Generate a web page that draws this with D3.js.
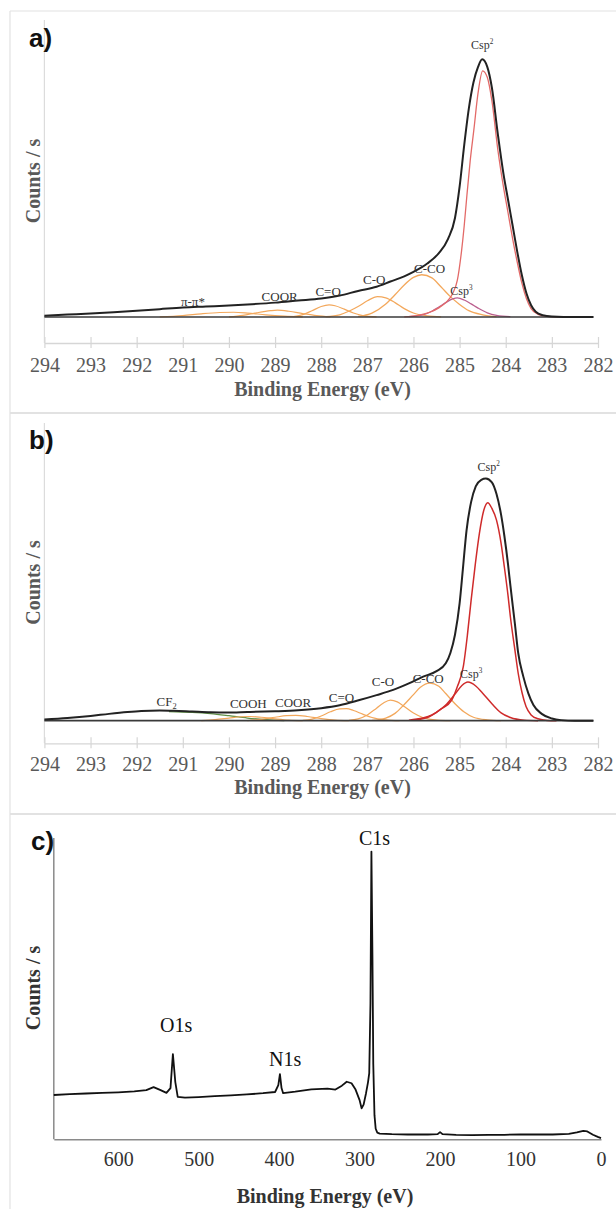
<!DOCTYPE html>
<html>
<head>
<meta charset="utf-8">
<script src="https://cdn.jsdelivr.net/npm/d3@7"></script>
<style>
  body { margin: 0; background: #fff; }
  svg text { font-family: "Liberation Serif", "Times New Roman", serif; }
</style>
</head>
<body>
<div id="chart"></div>
<script>
// ---- tick labels
const hrTicks = [294, 293, 292, 291, 290, 289, 288, 287, 286, 285, 284, 283, 282];
const surveyTicks = [600, 500, 400, 300, 200, 100, 0];

// ---- panel a: C1s high resolution (binding energy eV, counts in arbitrary units)
const aEnvelope = [[294.0, 0.5], [293.5, 0.9], [293.0, 1.3], [292.5, 1.8], [292.0, 2.4], [291.5, 3.0], [291.0, 3.6],
  [290.5, 4.0], [290.0, 4.4], [289.5, 4.9], [289.0, 5.5], [288.5, 6.3], [288.0, 7.1], [287.6, 8.2], [287.2, 10.0],
  [286.8, 11.6], [286.5, 13.6], [286.2, 15.6], [286.0, 17.3], [285.7, 20.5], [285.45, 24.5], [285.25, 30],
  [285.1, 38], [285.0, 50], [284.9, 66], [284.8, 80], [284.7, 90], [284.6, 96], [284.51, 98.9], [284.4, 96],
  [284.3, 88], [284.17, 70], [284.05, 55], [283.95, 45], [283.85, 35], [283.75, 25], [283.65, 16], [283.55, 9],
  [283.45, 4.5], [283.35, 2.0], [283.2, 0.7], [283.0, 0.2], [282.5, 0.0], [282.1, 0.0]];
const aCsp2 = [[286.2, 0], [285.9, 0.6], [285.65, 1.8], [285.45, 3.5], [285.3, 5.5], [285.15, 9], [285.05, 14],
  [284.96, 25], [284.9, 35], [284.84, 47], [284.77, 60], [284.69, 72], [284.6, 86], [284.5, 94.5], [284.4, 92],
  [284.3, 83], [284.17, 64], [284.05, 50], [283.95, 40], [283.85, 30], [283.75, 21], [283.65, 13], [283.55, 7],
  [283.45, 3.2], [283.3, 1.0], [283.1, 0.2], [282.8, 0]];
const aCsp3 = [[286.1, 0.1], [285.8, 0.8], [285.6, 2.2], [285.45, 3.8], [285.3, 5.5], [285.15, 6.9], [285.05, 7.3],
  [284.9, 6.5], [284.75, 5.0], [284.6, 3.4], [284.4, 1.6], [284.2, 0.6], [283.9, 0.1]];
const aCCO = [[287.2, 0.2], [286.9, 1.5], [286.6, 5.0], [286.4, 8.5], [286.2, 12.3], [286.0, 15.2], [285.82, 16.2],
  [285.6, 15.0], [285.4, 11.5], [285.2, 7.8], [285.0, 4.8], [284.8, 2.4], [284.5, 0.8], [284.2, 0.1]];
const aCO = [[287.9, 0.1], [287.6, 0.8], [287.4, 2.2], [287.2, 4.0], [287.0, 6.2], [286.78, 7.8], [286.6, 7.3],
  [286.4, 5.5], [286.2, 3.2], [286.0, 1.5], [285.7, 0.4], [285.4, 0]];
const aCdO = [[288.6, 0.1], [288.4, 0.9], [288.2, 2.4], [288.0, 4.0], [287.83, 4.6], [287.7, 4.3], [287.5, 3.0],
  [287.3, 1.5], [287.1, 0.5], [286.8, 0]];
const aCOOR = [[290.0, 0], [289.7, 0.6], [289.4, 1.6], [289.1, 2.4], [288.95, 2.6], [288.7, 2.2], [288.4, 1.3],
  [288.1, 0.5], [287.8, 0]];
const aPiPi = [[291.5, 0], [291.0, 0.5], [290.6, 1.2], [290.2, 1.7], [289.9, 1.8], [289.6, 1.5], [289.2, 0.8],
  [288.8, 0.3], [288.4, 0]];
const aBackground = [[294.0, 0], [282.1, 0]];
const aLabels = [
  { text: "Csp", sup: "2", e: 284.51, v: 102.9 },
  { text: "C-CO", e: 285.65, v: 16.9 },
  { text: "Csp", sup: "3", e: 284.96, v: 8.6 },
  { text: "C-O", e: 286.85, v: 12.7 },
  { text: "C=O", e: 287.85, v: 8.1 },
  { text: "COOR", e: 288.9, v: 6.1 },
  { text: "\u03c0-\u03c0*", e: 290.78, v: 4.2 }
];

// ---- panel b: C1s high resolution
const bEnvelope = [[294.0, 0.4], [293.5, 1.0], [293.0, 1.8], [292.6, 2.6], [292.2, 3.3], [291.9, 3.7], [291.5, 3.9],
  [291.2, 3.8], [290.8, 3.5], [290.4, 3.2], [290.05, 3.1], [289.6, 3.3], [289.0, 3.6], [288.5, 4.0], [288.0, 4.8],
  [287.6, 5.9], [287.17, 7.9], [286.8, 9.8], [286.44, 11.8], [286.1, 14.3], [285.79, 16.9], [285.5, 19.0],
  [285.3, 22], [285.2, 26], [285.1, 33], [285.0, 45], [284.93, 58], [284.85, 73], [284.75, 84], [284.65, 90],
  [284.53, 92.5], [284.43, 93], [284.3, 91.5], [284.2, 87], [284.1, 79], [284.03, 71], [283.95, 60], [283.9, 52],
  [283.8, 37], [283.73, 26], [283.62, 17], [283.51, 10.5], [283.4, 6], [283.22, 2.6], [283.0, 0.8], [282.8, 0.2],
  [282.5, 0], [282.1, 0]];
const bCsp2 = [[286.1, 0.2], [285.8, 1.0], [285.6, 2.2], [285.4, 4.5], [285.17, 7.9], [285.05, 13], [284.92, 20.7],
  [284.83, 33], [284.75, 46.3], [284.66, 60], [284.57, 72], [284.48, 80.5], [284.39, 83.7], [284.3, 81.5],
  [284.2, 77], [284.1, 68], [284.03, 59], [283.95, 48], [283.9, 40], [283.8, 27], [283.73, 18.2], [283.65, 11],
  [283.56, 5.4], [283.45, 2.2], [283.3, 0.7], [283.1, 0.1], [282.9, 0]];
const bCsp3 = [[286.0, 0.2], [285.7, 1.2], [285.5, 3.2], [285.3, 6.0], [285.1, 10.2], [284.95, 13.5], [284.82, 14.8],
  [284.65, 13.3], [284.5, 10.5], [284.3, 6.5], [284.1, 3.0], [283.9, 1.2], [283.6, 0.2], [283.3, 0]];
const bCCO = [[286.9, 0.1], [286.6, 1.0], [286.4, 2.8], [286.2, 6.2], [286.0, 10.0], [285.85, 12.8], [285.65, 14.4],
  [285.45, 13.2], [285.3, 10.4], [285.1, 6.5], [284.9, 3.3], [284.7, 1.3], [284.4, 0.3], [284.1, 0]];
const bCO = [[287.4, 0.1], [287.2, 0.7], [287.0, 2.2], [286.8, 4.8], [286.65, 6.8], [286.5, 7.9], [286.35, 7.2],
  [286.2, 5.4], [286.0, 2.9], [285.8, 1.2], [285.5, 0.2], [285.2, 0]];
const bCdO = [[288.4, 0.1], [288.2, 0.6], [288.0, 1.8], [287.8, 3.4], [287.6, 4.5], [287.45, 4.6], [287.3, 3.9],
  [287.1, 2.5], [286.9, 1.2], [286.6, 0.3], [286.3, 0]];
const bCOOR = [[289.6, 0], [289.3, 0.5], [289.0, 1.3], [288.75, 1.9], [288.55, 2.0], [288.3, 1.6], [288.0, 0.8],
  [287.7, 0.2], [287.4, 0]];
const bCOOH = [[290.6, 0], [290.3, 0.4], [290.0, 1.0], [289.75, 1.5], [289.55, 1.6], [289.3, 1.3], [289.0, 0.7],
  [288.7, 0.2], [288.4, 0]];
const bCF2 = [[291.3, 3.5], [290.8, 3.2], [290.4, 2.7], [290.0, 1.9], [289.6, 1.0], [289.2, 0.4], [288.8, 0]];
const bBackground = [[294.0, 0], [282.1, 0]];
const bLabels = [
  { text: "Csp", sup: "2", e: 284.37, v: 95.9 },
  { text: "CF", sub: "2", e: 291.35, v: 5.6 },
  { text: "COOH", e: 289.58, v: 4.9 },
  { text: "COOR", e: 288.61, v: 5.3 },
  { text: "C=O", e: 287.56, v: 7.2 },
  { text: "C-O", e: 286.66, v: 13.3 },
  { text: "C-CO", e: 285.68, v: 14.5 },
  { text: "Csp", sup: "3", e: 284.75, v: 16.4 }
];

// ---- panel c: survey spectrum
const survey = [[680, 14.7], [660, 15.0], [640, 15.2], [620, 15.4], [600, 15.6], [580, 15.9], [565, 16.3],
  [556, 17.3], [548, 16.4], [540, 15.4], [535, 17], [532, 28.3], [529, 19], [526, 14.1], [517, 13.8], [500, 14.0],
  [480, 14.3], [460, 14.6], [440, 14.9], [420, 15.3], [405, 15.7], [401, 18], [399, 21.6], [397, 17], [395, 15.3],
  [380, 15.8], [360, 16.6], [340, 16.8], [330, 16.5], [322, 17.8], [316, 19.1], [310, 18.6], [305, 16.5],
  [300, 13], [297.5, 10.3], [295, 11.5], [292, 15.3], [289.5, 19], [288, 22], [286.5, 45], [285.3, 95.5],
  [284, 60], [283, 25], [281.5, 8], [280, 3.5], [278, 2.2], [275, 1.9], [260, 1.7], [240, 1.6], [215, 1.6],
  [203, 1.7], [200, 2.4], [197, 1.7], [180, 1.5], [160, 1.4], [140, 1.5], [120, 1.5], [100, 1.6], [80, 1.6],
  [60, 1.6], [40, 1.8], [30, 2.3], [22, 2.8], [17, 2.6], [10, 1.5], [4, 0.8], [0, 0.4]];
const surveyLabels = [
  { text: "C1s", e: 281.4, v: 97.7 },
  { text: "O1s", e: 528, v: 35.6 },
  { text: "N1s", e: 392.5, v: 24.3 }
];

// styles
const serif = "'Liberation Serif', 'Times New Roman', serif";
const orange = "#f3a85c";
const styleA = [
  { data: aPiPi, color: orange, w: 1.2 },
  { data: aCOOR, color: orange, w: 1.2 },
  { data: aCdO, color: orange, w: 1.2 },
  { data: aCO, color: orange, w: 1.2 },
  { data: aCCO, color: orange, w: 1.3 },
  { data: aCsp3, color: "#bb5f8e", w: 1.3 },
  { data: aCsp2, color: "#e36a68", w: 1.3 },
  { data: aBackground, color: "#3a3a3a", w: 1.6 },
  { data: aEnvelope, color: "#222", w: 2 }
];
const styleB = [
  { data: bCF2, color: "#5f8f45", w: 1.2 },
  { data: bCOOH, color: orange, w: 1.2 },
  { data: bCOOR, color: orange, w: 1.2 },
  { data: bCdO, color: orange, w: 1.2 },
  { data: bCO, color: orange, w: 1.2 },
  { data: bCCO, color: orange, w: 1.3 },
  { data: bCsp3, color: "#cf2b2b", w: 1.5 },
  { data: bCsp2, color: "#cf2b2b", w: 1.5 },
  { data: bBackground, color: "#3a3a3a", w: 1.6 },
  { data: bEnvelope, color: "#222", w: 2 }
];

var svg = d3.select("#chart")
  .append("svg")
  .attr("width", 616)
  .attr("height", 1209);

// panel frames
var frame = svg.append("g").attr("stroke", "#e2e2e2").attr("fill", "none");
frame.append("line").attr("x1", 10).attr("x2", 616).attr("y1", 11).attr("y2", 11).attr("stroke-width", 1.2);
frame.append("line").attr("x1", 10).attr("x2", 10).attr("y1", 11).attr("y2", 1209).attr("stroke-width", 1.2);
frame.append("line").attr("x1", 10).attr("x2", 616).attr("y1", 413).attr("y2", 413).attr("stroke-width", 2);
frame.append("line").attr("x1", 10).attr("x2", 616).attr("y1", 814).attr("y2", 814).attr("stroke-width", 2);

function addLabel(g, d, x, y, size, color) {
  var t = g.append("text")
    .attr("x", x(d.e)).attr("y", y(d.v))
    .attr("text-anchor", "middle")
    .style("font-family", serif)
    .style("font-size", size + "px")
    .attr("fill", color)
    .text(d.text);
  if (d.sup) t.append("tspan").attr("dy", -size * 0.4).style("font-size", (size * 0.6) + "px").text(d.sup);
  if (d.sub) t.append("tspan").attr("dy", size * 0.25).style("font-size", (size * 0.65) + "px").text(d.sub);
}

function axisTitles(g, cx, beY, countsY, color) {
  g.append("text")
    .attr("x", cx).attr("y", beY)
    .attr("text-anchor", "middle")
    .style("font-family", serif)
    .style("font-size", "20px").style("font-weight", "bold")
    .attr("fill", color)
    .text("Binding Energy (eV)");
  g.append("text")
    .attr("transform", "translate(40," + countsY + ") rotate(-90)")
    .attr("text-anchor", "middle")
    .style("font-family", serif)
    .style("font-size", "20px").style("font-weight", "bold")
    .attr("fill", color)
    .text("Counts / s");
}

function panelTag(g, text, x, y) {
  g.append("text")
    .attr("x", x).attr("y", y)
    .style("font-family", "'Liberation Sans', Arial, sans-serif")
    .style("font-size", "26px").style("font-weight", "bold")
    .attr("fill", "#111")
    .text(text);
}

// high resolution panels (a and b)
function hrPanel(layout, styles, labels) {
  var g = svg.append("g");
  var x = d3.scaleLinear().domain([294, 282]).range([44.4, 598]);
  var y = d3.scaleLinear().domain(layout.dom).range([layout.axisY, layout.top]);

  // y axis: bare line
  g.append("line")
    .attr("x1", x(294)).attr("x2", x(294))
    .attr("y1", layout.top).attr("y2", layout.axisY)
    .attr("stroke", "#dcdcdc").attr("stroke-width", 1.2);

  var xAxis = g.append("g")
    .attr("transform", "translate(0," + layout.axisY + ")")
    .call(d3.axisBottom(x)
      .tickValues(hrTicks)
      .tickSize(5)
      .tickSizeOuter(0)
      .tickFormat(d3.format("d")));
  xAxis.attr("font-family", null).attr("font-size", null);
  xAxis.select(".domain").attr("stroke", "#d6d6d6").attr("stroke-width", 1.3);
  xAxis.selectAll(".tick line").attr("y1", -6).attr("y2", 5).attr("stroke", "#d6d6d6").attr("stroke-width", 1.2);
  xAxis.selectAll(".tick text")
    .attr("y", layout.tickDy).attr("dy", null)
    .style("font-family", serif)
    .style("font-size", "20px")
    .attr("fill", "#595959");

  var line = d3.line()
    .x(function (d) { return x(d[0]); })
    .y(function (d) { return y(d[1]); })
    .curve(d3.curveMonotoneX);

  g.selectAll("path.comp")
    .data(styles)
    .enter()
    .append("path")
    .attr("class", "comp")
    .attr("fill", "none")
    .attr("stroke", function (d) { return d.color; })
    .attr("stroke-width", function (d) { return d.w; })
    .attr("stroke-linejoin", "round")
    .attr("d", function (d) { return line(d.data); });

  labels.forEach(function (d) {
    addLabel(g, d, x, y, d.sup ? 12 : 13, "#333");
  });

  axisTitles(g, 322.5, layout.beY, layout.countsY, "#595959");
  panelTag(g, layout.tag, 29, layout.tagY);
}

hrPanel({ top: 20, axisY: 343, dom: [-10, 114], tickDy: 29, beY: 396, countsY: 181, tag: "a)", tagY: 47 },
  styleA, aLabels);
hrPanel({ top: 423, axisY: 743.3, dom: [-8.7, 114.3], tickDy: 27.7, beY: 794, countsY: 582.5, tag: "b)", tagY: 449 },
  styleB, bLabels);

// survey panel (c)
(function () {
  var g = svg.append("g");
  var x = d3.scaleLinear().domain([680, 0]).range([53.8, 601]);
  var y = d3.scaleLinear().domain([0, 100]).range([1139.3, 838]);

  g.append("line")
    .attr("x1", x(680)).attr("x2", x(680))
    .attr("y1", 838).attr("y2", y(0))
    .attr("stroke", "#8a8a8a").attr("stroke-width", 1.5);

  var xAxis = g.append("g")
    .attr("transform", "translate(0," + y(0) + ")")
    .call(d3.axisBottom(x)
      .tickValues(surveyTicks)
      .tickSize(0)
      .tickSizeOuter(0)
      .tickFormat(d3.format("d")));
  xAxis.attr("font-family", null).attr("font-size", null);
  xAxis.select(".domain").attr("stroke", "#8a8a8a").attr("stroke-width", 1.5);
  xAxis.selectAll(".tick text")
    .attr("y", 27).attr("dy", null)
    .style("font-family", serif)
    .style("font-size", "20px")
    .attr("fill", "#333");

  g.append("path")
    .datum(survey)
    .attr("fill", "none")
    .attr("stroke", "#111")
    .attr("stroke-width", 1.8)
    .attr("stroke-linejoin", "round")
    .attr("d", d3.line()
      .x(function (d) { return x(d[0]); })
      .y(function (d) { return y(d[1]); }));

  surveyLabels.forEach(function (d) {
    addLabel(g, d, x, y, 20, "#111");
  });

  axisTitles(g, 325, 1203, 988, "#333");
  panelTag(g, "c)", 31, 850);
})();
</script>
</body>
</html>
